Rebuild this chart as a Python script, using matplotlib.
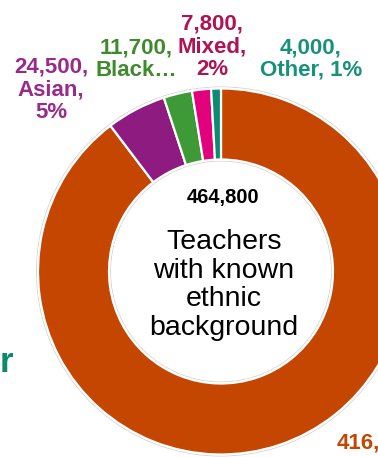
import matplotlib
matplotlib.use("Agg")
import matplotlib.pyplot as plt
from matplotlib.patches import Circle

plt.rcParams["font.family"] = ["Liberation Sans", "DejaVu Sans"]

# teachers by ethnic group (known ethnicity only)
groups = ["White", "Asian", "Black", "Mixed", "Other"]
counts = [416800, 24500, 11700, 7800, 4000]
shares = ["90%", "5%", "3%", "2%", "1%"]
total = 464800

wedge_colors = ["#C44601", "#8E1B7F", "#3D9A36", "#E3007C", "#0B8B72"]
text_colors = ["#C44601", "#982A8C", "#3F8A2C", "#AE1356", "#17917A"]

W, H = 378, 457
fig = plt.figure(figsize=(W / 100, H / 100), dpi=100)
ax = fig.add_axes([0, 0, 1, 1])

cx, cy = 221, H - 271.5
r_out, ring = 183, 71

ax.pie(counts, startangle=90, counterclock=False, colors=wedge_colors,
       center=(cx, cy), radius=r_out,
       wedgeprops=dict(width=ring, edgecolor="white", linewidth=1.6))

# faint outline round the ring
for rr in (r_out + 1.5, r_out - ring - 1.5):
    ax.add_patch(Circle((cx, cy), rr, fill=False, edgecolor="#d4d4d4",
                        linewidth=0.7, zorder=0))

ax.set_xlim(0, W)
ax.set_ylim(0, H)
ax.set_aspect("equal")
ax.axis("off")

lab_kw = dict(fontsize=16, fontweight="bold", ha="center", va="center",
              linespacing=1.1)

def fmt(n):
    return f"{n:,}"

ax.text(51, H - 90, f"{fmt(counts[1])},\n{groups[1]},\n{shares[1]}",
        color=text_colors[1], **lab_kw)
ax.text(136, H - 59, f"{fmt(counts[2])},\n{groups[2]}\u2026",
        color=text_colors[2], **lab_kw)
ax.text(212, H - 47, f"{fmt(counts[3])},\n{groups[3]},\n{shares[3]}",
        color=text_colors[3], **lab_kw)
ax.text(311, H - 59, f"{fmt(counts[4])},\n{groups[4]}, {shares[4]}",
        color=text_colors[4], **lab_kw)

# white group label runs off the right edge
ax.text(337, H - 448, f"{fmt(counts[0])},", color=text_colors[0],
        fontsize=16, fontweight="bold", ha="left", va="baseline")

ax.text(0, H - 372, "r", color="#0B8A6E", fontsize=25, fontweight="bold",
        ha="left", va="baseline")

# centre labels
ax.text(223, H - 198, fmt(total), fontsize=14.5, fontweight="bold",
        ha="center", va="center", color="black")
ax.text(224, H - 285, "Teachers\nwith known\nethnic\nbackground",
        fontsize=20.5, ha="center", va="center", color="black",
        linespacing=1.12)

fig.savefig("out.png", dpi=100)
